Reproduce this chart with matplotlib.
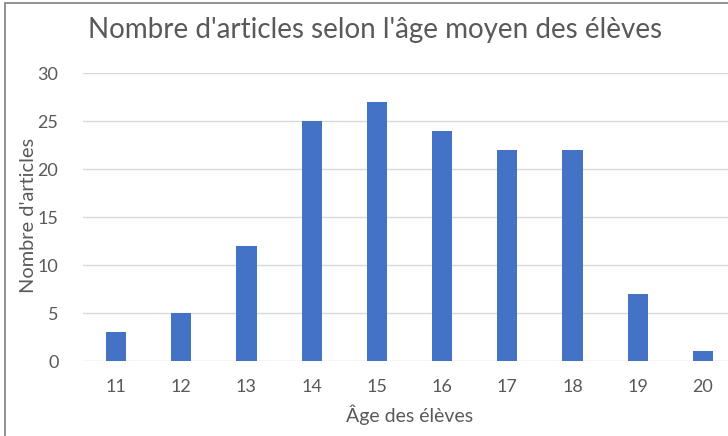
import matplotlib
matplotlib.use("Agg")
import matplotlib.pyplot as plt
from matplotlib.patches import Rectangle

ages = ["11", "12", "13", "14", "15", "16", "17", "18", "19", "20"]
counts = [3, 5, 12, 25, 27, 24, 22, 22, 7, 1]
yticks = [0, 5, 10, 15, 20, 25, 30]

plt.rcParams['font.family'] = ['Lato', 'DejaVu Sans']
W, H = 728, 436
fig = plt.figure(figsize=(W/100, H/100), dpi=100)
ax = fig.add_axes([83.4/W, 75/H, (735.6-83.4)/W, (361-73.3)/H])

x = range(len(ages))
ax.bar(x, counts, width=0.31, color="#4472C4", zorder=3)
ax.set_xlim(-0.5, len(ages)-0.5)
ax.set_ylim(0, 30)
ax.set_yticks(yticks)
ax.set_xticks(list(x))
ax.set_xticklabels(ages)
ax.grid(axis='y', color="#d9d9d9", linewidth=1.0, zorder=0)
for s in ax.spines.values():
    s.set_visible(False)
ax.tick_params(length=0, labelsize=13, colors="#595959")
ax.tick_params(axis='x', pad=13)
ax.tick_params(axis='y', pad=18)
ax.set_xlabel("Âge des élèves", fontsize=14, color="#595959")
ax.set_ylabel("Nombre d'articles", fontsize=14.4, color="#595959")
ax.xaxis.set_label_coords((410-83.4)/(735.6-83.4), -(415-361)/(361-73.3))
ax.yaxis.set_label_coords(-(83.4-29)/(735.6-83.4), (361-215)/(361-73.3))
ax.xaxis.label.set_va('center')
ax.yaxis.label.set_va('center')

fig.text(375/W, 1-30/H, "Nombre d'articles selon l'âge moyen des élèves",
         fontsize=20, color="#595959", ha='center', va='center')

fig.patches.append(Rectangle((5/W, -0.05), 1.2, 1 - 3/H + 0.05,
                             transform=fig.transFigure, fill=False,
                             edgecolor="#7f7f7f", linewidth=1.2))
fig.savefig("out.png", dpi=100)
